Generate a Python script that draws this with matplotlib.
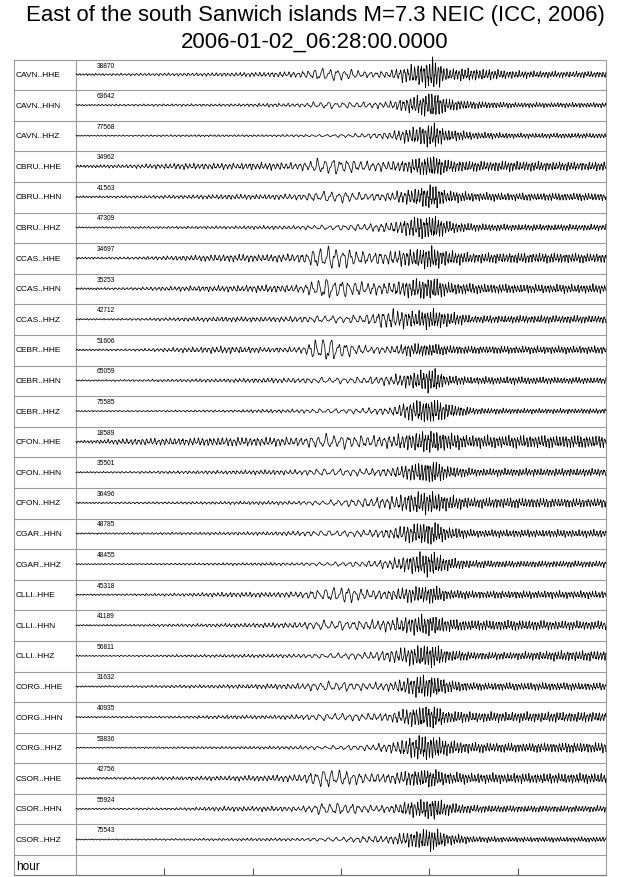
import numpy as np
import matplotlib
matplotlib.use("Agg")
import matplotlib.pyplot as plt

plt.rcParams["font.family"] = ["Liberation Sans", "DejaVu Sans"]

# --- data -------------------------------------------------------------------
title = "East of the south Sanwich islands M=7.3 NEIC (ICC, 2006)"
subtitle = "2006-01-02_06:28:00.0000"

stations = [
    "CAVN..HHE", "CAVN..HHN", "CAVN..HHZ",
    "CBRU..HHE", "CBRU..HHN", "CBRU..HHZ",
    "CCAS..HHE", "CCAS..HHN", "CCAS..HHZ",
    "CEBR..HHE", "CEBR..HHN", "CEBR..HHZ",
    "CFON..HHE", "CFON..HHN", "CFON..HHZ",
    "CGAR..HHN", "CGAR..HHZ",
    "CLLI..HHE", "CLLI..HHN", "CLLI..HHZ",
    "CORG..HHE", "CORG..HHN", "CORG..HHZ",
    "CSOR..HHE", "CSOR..HHN", "CSOR..HHZ",
]
max_counts = [
    38870, 63642, 77568, 34962, 41563, 47309, 34697, 35253, 42712,
    51606, 65059, 75585, 18589, 35501, 36496, 48785, 48455, 45318,
    41189, 56811, 31632, 40935, 53836, 42756, 55924, 75543,
]

# envelope knots (minutes after 06:28) and apparent period at each knot (minutes)
knot_min = [0, 6, 12, 17, 22, 25.5, 28, 30.5, 33, 35.5, 37.5, 39, 40.5, 42, 45, 50, 55, 60]
period_min = [0.34, 0.45, 0.45, 0.45, 0.45, 0.55, 0.9, 0.8, 0.68, 0.55, 0.40, 0.34, 0.32, 0.34, 0.34, 0.34, 0.34, 0.34]

# envelope (half trace height, in pixels of a 30.6 px row) at each knot
env_CAVN_HHE = [0.8, 1.0, 1.2, 1.5, 2.0, 2.5, 5.5, 4.5, 2.5, 3.0, 7.0, 9.0, 13.0, 5.0, 5.0, 3.0, 2.5, 2.5]
env_CAVN_HHN = [0.6, 0.8, 1.0, 1.0, 1.5, 1.5, 3.0, 2.5, 2.5, 3.0, 6.0, 8.0, 11.0, 5.0, 3.0, 2.0, 2.0, 2.0]
env_CAVN_HHZ = [0.5, 0.6, 0.8, 0.8, 0.8, 1.0, 1.0, 1.5, 2.0, 3.0, 6.0, 8.0, 10.0, 5.0, 3.0, 2.0, 2.0, 2.0]
env_CBRU_HHE = [1.0, 1.5, 2.5, 2.5, 3.0, 3.0, 7.0, 6.0, 4.0, 4.0, 5.0, 7.0, 9.0, 5.0, 4.0, 4.0, 3.5, 3.5]
env_CBRU_HHN = [0.8, 1.0, 1.5, 2.0, 2.0, 2.5, 4.5, 4.5, 3.0, 3.5, 6.0, 8.0, 10.0, 5.0, 3.5, 3.0, 3.0, 3.0]
env_CBRU_HHZ = [0.6, 0.8, 1.0, 1.2, 1.5, 1.5, 2.0, 2.5, 3.0, 4.0, 7.0, 9.0, 10.0, 5.0, 3.0, 2.5, 2.5, 2.5]
env_CCAS_HHE = [0.8, 1.0, 2.0, 3.0, 3.0, 3.5, 10.0, 8.0, 5.0, 5.5, 7.0, 8.0, 9.0, 6.0, 4.0, 4.0, 4.0, 3.5]
env_CCAS_HHN = [0.8, 1.0, 2.0, 2.5, 3.0, 3.0, 9.0, 7.0, 5.0, 5.0, 7.0, 8.0, 9.0, 5.0, 4.0, 3.5, 3.5, 3.5]
env_CCAS_HHZ = [0.6, 0.8, 1.5, 2.0, 2.0, 2.5, 3.0, 3.0, 4.0, 8.0, 7.0, 7.0, 8.0, 6.0, 3.0, 3.0, 3.0, 3.0]
env_CEBR_HHE = [0.8, 0.8, 2.0, 3.0, 2.0, 2.5, 11.0, 6.0, 3.0, 3.0, 5.0, 5.0, 5.0, 3.5, 3.0, 3.0, 3.0, 3.0]
env_CEBR_HHN = [0.6, 0.8, 1.2, 1.5, 2.0, 2.0, 2.5, 2.5, 3.0, 4.0, 6.0, 8.0, 10.0, 4.0, 3.0, 3.0, 2.5, 2.5]
env_CEBR_HHZ = [0.5, 0.6, 0.8, 1.0, 1.5, 1.5, 2.0, 2.0, 2.5, 3.0, 7.0, 9.0, 10.0, 6.0, 2.5, 2.0, 2.0, 2.0]
env_CFON_HHE = [0.8, 2.5, 3.0, 3.5, 3.5, 3.5, 6.0, 5.5, 5.0, 5.0, 7.0, 8.0, 9.0, 7.0, 5.0, 5.0, 5.0, 5.0]
env_CFON_HHN = [0.6, 0.8, 1.2, 1.5, 2.0, 2.0, 3.0, 3.0, 3.0, 3.5, 6.0, 8.0, 9.0, 5.0, 3.0, 3.0, 3.0, 3.0]
env_CFON_HHZ = [0.6, 0.8, 1.0, 1.2, 1.5, 1.5, 2.0, 3.0, 4.0, 5.0, 8.0, 9.0, 9.0, 6.0, 4.0, 4.0, 3.5, 3.5]
env_CGAR_HHN = [0.6, 0.8, 1.0, 1.2, 1.5, 2.0, 2.5, 2.5, 3.0, 4.0, 7.0, 9.0, 9.0, 5.0, 3.0, 3.0, 3.0, 3.0]
env_CGAR_HHZ = [0.5, 0.6, 0.8, 1.0, 1.2, 1.2, 1.5, 2.0, 2.5, 4.0, 7.0, 9.0, 10.0, 5.0, 3.0, 2.5, 2.5, 2.5]
env_CLLI_HHE = [0.6, 0.8, 1.2, 2.0, 2.0, 2.5, 5.0, 7.0, 4.0, 4.0, 6.0, 7.0, 7.0, 4.0, 3.0, 3.0, 3.0, 3.0]
env_CLLI_HHN = [0.6, 0.8, 1.2, 1.5, 2.0, 2.5, 4.0, 4.0, 4.0, 5.0, 7.0, 8.0, 8.0, 5.0, 4.0, 4.0, 3.5, 3.5]
env_CLLI_HHZ = [0.5, 0.6, 1.0, 1.2, 1.5, 1.5, 2.0, 2.5, 3.0, 5.0, 7.0, 9.0, 9.0, 5.0, 3.0, 3.0, 4.0, 4.0]
env_CORG_HHE = [0.6, 0.8, 1.2, 1.5, 2.0, 2.5, 4.0, 4.0, 3.0, 3.5, 7.0, 9.0, 9.0, 5.0, 3.0, 3.0, 3.0, 3.0]
env_CORG_HHN = [0.6, 0.8, 1.0, 1.5, 1.5, 2.0, 3.0, 3.0, 3.0, 3.5, 7.0, 9.0, 9.0, 5.0, 4.0, 4.0, 4.0, 4.0]
env_CORG_HHZ = [0.5, 0.6, 0.8, 1.0, 1.2, 1.5, 1.5, 2.0, 2.5, 4.0, 8.0, 10.0, 10.0, 6.0, 4.0, 3.5, 4.0, 4.0]
env_CSOR_HHE = [0.8, 1.0, 1.5, 2.0, 2.5, 3.0, 8.0, 6.0, 4.0, 4.0, 6.0, 7.0, 7.0, 5.0, 4.0, 4.0, 4.0, 4.0]
env_CSOR_HHN = [0.6, 0.8, 1.0, 2.0, 2.0, 2.0, 5.0, 5.0, 3.0, 3.0, 6.0, 7.0, 9.0, 5.0, 3.0, 2.5, 2.5, 2.5]
env_CSOR_HHZ = [0.5, 0.6, 0.8, 1.0, 1.2, 1.2, 1.5, 2.0, 3.0, 3.0, 6.0, 8.0, 9.0, 5.0, 2.5, 2.0, 2.0, 2.0]

envelopes = [
    env_CAVN_HHE, env_CAVN_HHN, env_CAVN_HHZ,
    env_CBRU_HHE, env_CBRU_HHN, env_CBRU_HHZ,
    env_CCAS_HHE, env_CCAS_HHN, env_CCAS_HHZ,
    env_CEBR_HHE, env_CEBR_HHN, env_CEBR_HHZ,
    env_CFON_HHE, env_CFON_HHN, env_CFON_HHZ,
    env_CGAR_HHN, env_CGAR_HHZ,
    env_CLLI_HHE, env_CLLI_HHN, env_CLLI_HHZ,
    env_CORG_HHE, env_CORG_HHN, env_CORG_HHZ,
    env_CSOR_HHE, env_CSOR_HHN, env_CSOR_HHZ,
]
tick_minutes = [10, 20, 30, 40, 50]

# --- layout (pixels) ---------------------------------------------------------
W, H = 640, 878
top, row_h = 60.5, 30.6
n = len(stations)
bottom = top + n * row_h
hour_bottom = 876
left, mid, right = 14, 76, 606
grey = "#9a9a9a"

fig = plt.figure(figsize=(W / 100, H / 100), dpi=100)

# frame / grid overlay in pixel coordinates
frame = fig.add_axes([0, 0, 1, 1])
frame.set_xlim(0, W)
frame.set_ylim(H, 0)
frame.axis("off")
for i in range(n + 1):
    y = top + i * row_h
    frame.plot([left, right], [y, y], color=grey, lw=0.8)
frame.plot([left, right], [hour_bottom, hour_bottom], color="#777777", lw=0.9)
frame.plot([left, left], [top, hour_bottom], color=grey, lw=0.8)
frame.plot([right, right], [top, hour_bottom], color=grey, lw=0.8)
frame.plot([mid, mid], [top, hour_bottom], color=grey, lw=0.8)

for i, (name, cnt) in enumerate(zip(stations, max_counts)):
    y0 = top + i * row_h
    frame.text(16, y0 + 15, name, fontsize=6, va="center", ha="left")
    frame.text(97, y0 + 5.5, str(cnt), fontsize=4.8, va="center", ha="left")
frame.text(16, (bottom + hour_bottom) / 2 + 0.5, "hour", fontsize=8.5, va="center", ha="left")

fig.text(315 / W, 1 - 15 / H, title, fontsize=15.9, ha="center", va="center")
fig.text(315 / W, 1 - 42 / H, subtitle, fontsize=15.9, ha="center", va="center")

# traces
ax = fig.add_axes([mid / W, 1 - bottom / H, (right - mid) / W, (bottom - top) / H])
ax.set_xlim(0, 60)
ax.set_ylim(n, 0)
ax.axis("off")

t = np.linspace(0, 60, 6000)
dt = t[1] - t[0]
period = np.interp(t, knot_min, period_min)
phase = np.cumsum(2 * np.pi / period) * dt
for i, env_px in enumerate(envelopes):
    env = 1.3 * np.interp(t, knot_min, env_px) / row_h
    ph = 1.3 * i
    wiggle = (0.7 * np.sin(phase + ph)
              + 0.25 * np.sin(1.83 * phase + 2.1 * ph)
              + 0.15 * np.sin(3.1 * phase + 0.7 * ph))
    mod = 0.65 + 0.35 * np.abs(np.sin(0.21 * phase + 0.9 * ph))
    y = i + 15 / row_h - env * wiggle * mod
    ax.plot(t, y, color="black", lw=0.55, clip_on=False)

# hour axis ticks
hax = fig.add_axes([mid / W, 1 - hour_bottom / H, (right - mid) / W, (hour_bottom - bottom) / H])
hax.set_xlim(0, 60)
hax.set_ylim(0, 1)
hax.axis("off")
hax.vlines(tick_minutes, 0, 0.35, color="#555555", lw=0.8)

fig.savefig("out.png", dpi=100)
